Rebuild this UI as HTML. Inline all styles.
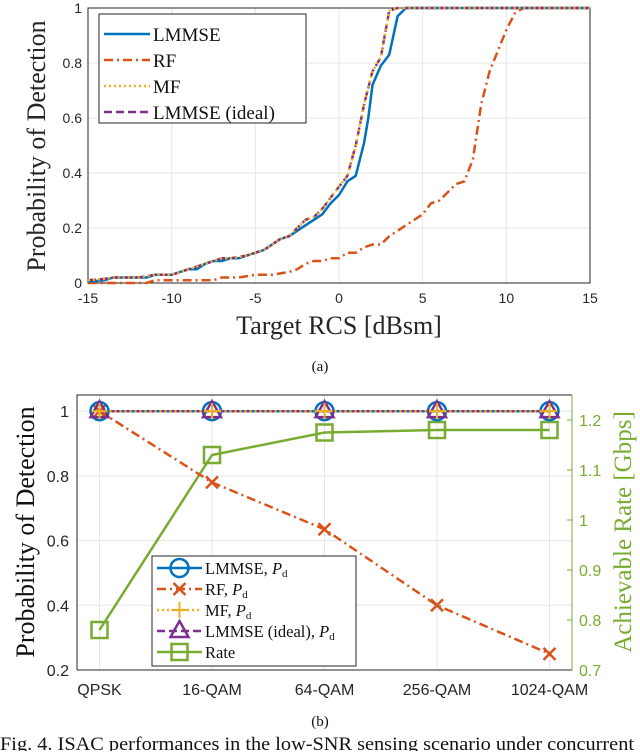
<!DOCTYPE html>
<html><head><meta charset="utf-8">
<style>
body{margin:0;background:#fff;width:640px;height:751px;overflow:hidden}
svg text{font-family:"Liberation Sans",sans-serif}
.serif{font-family:"Liberation Serif",serif}
</style></head>
<body>
<svg id="chart" width="640" height="751" xmlns="http://www.w3.org/2000/svg"></svg>
<script>
// Top chart data
const rcsLmmseX=[-15,-14,-13.5,-12,-11.5,-11,-10,-9.5,-9,-8.5,-8,-7.5,-7,-6.5,-6,-5.5,-5,-4.5,-4,-3.5,-3,-2.5,-2,-1.5,-1,-0.5,0,0.5,1,1.5,1.75,2,2.5,3,3.5,4,15];
const rcsLmmseY=[0.005,0.01,0.02,0.02,0.02,0.03,0.03,0.04,0.05,0.05,0.07,0.08,0.08,0.09,0.09,0.1,0.11,0.12,0.14,0.16,0.17,0.19,0.21,0.23,0.25,0.29,0.32,0.37,0.39,0.51,0.6,0.72,0.79,0.83,0.97,1,1];
const rcsIdealX=[-15,-14,-13.5,-12,-11.5,-11,-10,-9.5,-9,-8.5,-8,-7.5,-7,-6.5,-6,-5.5,-5,-4.5,-4,-3.5,-3,-2.5,-2,-1.5,-1,-0.5,0,0.5,1,1.5,2,2.5,3,3.5,15];
const rcsIdealY=[0.01,0.015,0.02,0.02,0.025,0.03,0.03,0.04,0.05,0.06,0.07,0.08,0.09,0.09,0.095,0.1,0.11,0.12,0.14,0.16,0.17,0.2,0.23,0.24,0.27,0.31,0.35,0.39,0.5,0.65,0.77,0.82,0.99,1,1];
const rcsRfX=[-15,-11.5,-11,-8,-7.5,-7,-6,-5,-4,-3,-2.5,-2,-1.5,-1,-0.5,0,0.5,1,1.5,2,2.5,3,4,5,5.5,6,7,7.5,8,8.5,9,10,10.5,11,15];
const rcsRfY=[0,0,0.01,0.01,0.01,0.02,0.02,0.03,0.03,0.04,0.05,0.07,0.08,0.08,0.09,0.09,0.11,0.11,0.13,0.14,0.14,0.17,0.21,0.25,0.29,0.3,0.36,0.37,0.45,0.65,0.77,0.92,0.98,1,1];
const topXTicks=[-15,-10,-5,0,5,10,15];
const topYTicks=[0,0.2,0.4,0.6,0.8,1];
// Bottom chart data
const mods=["QPSK","16-QAM","64-QAM","256-QAM","1024-QAM"];
const pdLmmse=[1,1,1,1,1];
const pdRf=[1,0.78,0.635,0.4,0.25];
const pdMf=[1,1,1,1,1];
const pdIdeal=[1,1,1,1,1];
const rate=[0.78,1.13,1.175,1.18,1.18];
const botYTicks=[0.2,0.4,0.6,0.8,1];
const rateTicks=[0.7,0.8,0.9,1,1.1,1.2];

const svg=document.getElementById('chart');
const NS="http://www.w3.org/2000/svg";
function mk(tag,at,parent){const e=document.createElementNS(NS,tag);for(const k in at)e.setAttribute(k,at[k]);(parent||svg).appendChild(e);return e;}
function txt(s,at,parent){const e=mk('text',at,parent);e.textContent=s;return e;}
const BLUE="#0072BD",ORANGE="#D95319",YELLOW="#EDB120",PURPLE="#7E2F8E",GREEN="#77AC30";

// ---------- top chart ----------
const T={l:88,r:590,t:8,b:283};
const tx=v=>T.l+(v+15)/30*(T.r-T.l);
const ty=v=>T.b-v*(T.b-T.t);
const gTop=mk('g',{});


topXTicks.forEach(v=>{
 const g=mk('line',{x1:tx(v),x2:tx(v),y1:T.t,y2:T.b,stroke:'#e6e6e6','stroke-width':1},gTop);
 
 const t=txt(v,{x:tx(v),y:T.b+20,'text-anchor':'middle','font-size':14,fill:'#262626'},gTop);
 
});
topYTicks.forEach(v=>{
 const g=mk('line',{x1:T.l,x2:T.r,y1:ty(v),y2:ty(v),stroke:'#e6e6e6','stroke-width':1},gTop);
 
 const t=txt(v,{x:T.l-6,y:ty(v)+5,'text-anchor':'end','font-size':14,fill:'#262626'},gTop);
 
});
mk('rect',{x:T.l,y:T.t,width:T.r-T.l,height:T.b-T.t,fill:'none',stroke:'#262626','stroke-width':1},gTop);
function pathOf(xs,ys,fx,fy){return xs.map((x,i)=>(i?'L':'M')+fx(x).toFixed(1)+' '+fy(ys[i]).toFixed(1)).join(' ');}
let p;
p=mk('path',{d:pathOf(rcsRfX,rcsRfY,tx,ty),fill:'none',stroke:ORANGE,'stroke-width':2.5,'stroke-dasharray':'9 4 2 4'},gTop);

p=mk('path',{d:pathOf(rcsLmmseX,rcsLmmseY,tx,ty),fill:'none',stroke:BLUE,'stroke-width':2.5},gTop);

p=mk('path',{d:pathOf(rcsIdealX,rcsIdealY,tx,ty),fill:'none',stroke:PURPLE,'stroke-width':2.5,'stroke-dasharray':'8 4'},gTop);

p=mk('path',{d:pathOf(rcsIdealX,rcsIdealY,tx,ty),fill:'none',stroke:YELLOW,'stroke-width':2.5,'stroke-dasharray':'2 3'},gTop);

// legend top
const lt=mk('g',{},gTop);
mk('rect',{x:99,y:14,width:207,height:109,fill:'#fff',stroke:'#262626','stroke-width':1},lt);
[[BLUE,'none','LMMSE'],[ORANGE,'9 4 2 4','RF'],[YELLOW,'2 3','MF'],[PURPLE,'8 4','LMMSE (ideal)']].forEach((e,i)=>{
 const y=34+i*26;
 mk('line',{x1:104,x2:150,y1:y,y2:y,stroke:e[0],'stroke-width':2.5,'stroke-dasharray':e[1]},lt);
 txt(e[2],{x:153,y:y+7,'font-size':19,fill:'#111',class:'serif'},lt);
});
txt('Probability of Detection',{x:0,y:0,transform:'translate(45,146) rotate(-90)','text-anchor':'middle','font-size':26,fill:'#262626',class:'serif'},gTop);
txt('Target RCS [dBsm]',{x:339,y:334,'text-anchor':'middle','font-size':26,fill:'#262626',class:'serif'},gTop);
txt('(a)',{x:320,y:371,'text-anchor':'middle','font-size':15,fill:'#111',class:'serif'});

// ---------- bottom chart ----------
const B={l:77,r:572,t:395,b:670};
const bx=i=>B.l+(i+0.2)/4.4*(B.r-B.l);
const by=v=>B.b-(v-0.2)/0.85*(B.b-B.t);
const ry=v=>B.b-(v-0.7)/0.55*(B.b-B.t);
const gB=mk('g',{});
mods.forEach((m,i)=>{
 mk('line',{x1:bx(i),x2:bx(i),y1:B.t,y2:B.b,stroke:'#e6e6e6'},gB);
 const t=txt(m,{x:bx(i),y:B.b+25,'text-anchor':'middle','font-size':16,fill:'#262626'},gB);
 
});
botYTicks.forEach(v=>{
 mk('line',{x1:B.l,x2:B.r,y1:by(v),y2:by(v),stroke:'#e6e6e6'},gB);
 const t=txt(v,{x:B.l-8,y:by(v)+6,'text-anchor':'end','font-size':16,fill:'#262626'},gB);
 
});
rateTicks.forEach(v=>{
 mk('line',{x1:B.r-5,x2:B.r,y1:ry(v),y2:ry(v),stroke:GREEN},gB);
 const t=txt(v,{x:B.r+7,y:ry(v)+6,'font-size':16,fill:GREEN},gB);
 
});
mk('path',{d:`M${B.l} ${B.b} L${B.l} ${B.t} L${B.r} ${B.t}`,fill:'none',stroke:'#262626'},gB);
mk('line',{x1:B.l,x2:B.r,y1:B.b,y2:B.b,stroke:'#262626'},gB);
mk('line',{x1:B.r,x2:B.r,y1:B.t,y2:B.b,stroke:GREEN},gB);
function linePts(vals,f){return vals.map((v,i)=>(i?'L':'M')+bx(i).toFixed(1)+' '+f(v).toFixed(1)).join(' ');}
function circle(x,y,g,c){mk('circle',{cx:x,cy:y,r:9,fill:'none',stroke:c,'stroke-width':2.5},g);}
function cross(x,y,g,c){mk('path',{d:`M${x-6} ${y-6}L${x+6} ${y+6}M${x-6} ${y+6}L${x+6} ${y-6}`,stroke:c,'stroke-width':2.5},g);}
function plus(x,y,g,c){mk('path',{d:`M${x-8} ${y}L${x+8} ${y}M${x} ${y-8}L${x} ${y+8}`,stroke:c,'stroke-width':2},g);}
function tri(x,y,g,c){mk('path',{d:`M${x} ${y-10}L${x+9} ${y+6}L${x-9} ${y+6}Z`,fill:'none',stroke:c,'stroke-width':2.5},g);}
function sq(x,y,g,c){mk('rect',{x:x-8,y:y-8,width:16,height:16,fill:'none',stroke:c,'stroke-width':2.5},g);}
let g;
g=mk('g',{},gB);
mk('path',{d:linePts(rate,ry),fill:'none',stroke:GREEN,'stroke-width':2.5},g);rate.forEach((v,i)=>sq(bx(i),ry(v),g,GREEN));
g=mk('g',{},gB);
mk('path',{d:linePts(pdRf,by),fill:'none',stroke:ORANGE,'stroke-width':2.5,'stroke-dasharray':'9 4 2 4'},g);pdRf.forEach((v,i)=>cross(bx(i),by(v),g,ORANGE));
g=mk('g',{},gB);
mk('path',{d:linePts(pdLmmse,by),fill:'none',stroke:BLUE,'stroke-width':2.5},g);pdLmmse.forEach((v,i)=>circle(bx(i),by(v),g,BLUE));
g=mk('g',{},gB);
mk('path',{d:linePts(pdIdeal,by),fill:'none',stroke:PURPLE,'stroke-width':2.5,'stroke-dasharray':'8 4'},g);pdIdeal.forEach((v,i)=>tri(bx(i),by(v),g,PURPLE));
g=mk('g',{},gB);
mk('path',{d:linePts(pdMf,by),fill:'none',stroke:YELLOW,'stroke-width':2.5,'stroke-dasharray':'2 3'},g);pdMf.forEach((v,i)=>plus(bx(i),by(v),g,YELLOW));
// legend bottom
const lb=mk('g',{},gB);
mk('rect',{x:152,y:556,width:204,height:110,fill:'#fff',stroke:'#262626'},lb);
const lents=[[BLUE,'none',circle,'LMMSE, '],[ORANGE,'9 4 2 4',cross,'RF, '],[YELLOW,'2 3',plus,'MF, '],[PURPLE,'8 4',tri,'LMMSE (ideal), '],[GREEN,'none',sq,'Rate']];
lents.forEach((e,i)=>{
 const y=568+i*21;
 mk('line',{x1:157,x2:202,y1:y,y2:y,stroke:e[0],'stroke-width':2.5,'stroke-dasharray':e[1]},lb);
 e[2](179.5,y,lb,e[0]);
 const t=txt(e[3],{x:205,y:y+6,'font-size':16.5,fill:'#111',class:'serif'},lb);
 if(i<4){const s=mk('tspan',{'font-style':'italic'},t);s.textContent='P';const d=mk('tspan',{'font-size':11,dy:3},t);d.textContent='d';}
});
txt('Probability of Detection',{x:0,y:0,transform:'translate(34,532) rotate(-90)','text-anchor':'middle','font-size':26,fill:'#111',class:'serif'},gB);
txt('Achievable Rate [Gbps]',{x:0,y:0,transform:'translate(631,532) rotate(-90)','text-anchor':'middle','font-size':25,fill:GREEN,class:'serif'},gB);
txt('(b)',{x:320,y:726,'text-anchor':'middle','font-size':15,fill:'#111',class:'serif'});
txt('Fig. 4.  ISAC performances in the low-SNR sensing scenario under concurrent',{x:0,y:750,'font-size':18.5,fill:'#111',class:'serif',textLength:634,lengthAdjust:'spacingAndGlyphs'});
</script>
</body></html>
